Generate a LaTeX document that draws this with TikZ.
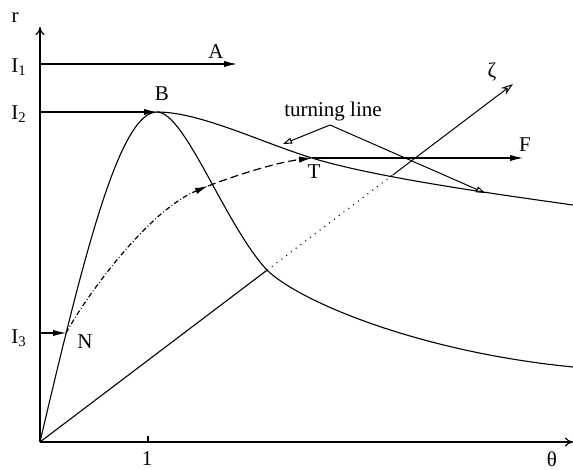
\documentclass[tikz,border=0pt]{standalone}
\usepackage{fontspec}
\setmainfont{Liberation Serif}
\usetikzlibrary{arrows.meta,positioning,calc}
\tikzset{
  curve/.style={line width=0.55pt},
  axisarr/.style={line width=0.6pt, -{To[length=4pt, width=4.5pt]}},
  leadarr/.style={line width=0.6pt, -{Latex[length=6.5pt, width=3.2pt]}},
  zetaarr/.style={line width=0.5pt, -{Stealth[open, length=6pt, width=4pt]}},
  callarr/.style={line width=0.5pt, -{Triangle[open, length=4.5pt, width=3pt]}},
  lbl/.style={font=\fontsize{10.5}{12}\selectfont, inner sep=0pt},
  dashdot/.style={dash pattern=on 2.5pt off 1.2pt on 0.4pt off 1.2pt},
}

\begin{document}
\begin{tikzpicture}[x=0.5pt, y=-0.5pt]
  \useasboundingbox (0,0) rectangle (573,470);
  % puntos
  \coordinate (O) at (40,442);
  \coordinate (rtop) at (40,27);
  \coordinate (thend) at (573,442);
  \coordinate (tick) at (148,442);
  \coordinate (B) at (157,112);
  \coordinate (N) at (66,333);
  \coordinate (T) at (312,158);
  \coordinate (M) at (208,186);
  \coordinate (Z) at (513,84);
  \coordinate (Z1) at ($(O)!0.48!(Z)$);
  \coordinate (Z2) at ($(O)!0.746!(Z)$);
  \coordinate (a1) at (40,64);
  \coordinate (a2) at (237,64);
  \coordinate (b1) at (40,112);
  \coordinate (n1) at (40,333);
  \coordinate (Fend) at (523,158);
  \coordinate (apex) at (330,125);
  \coordinate (tl) at (283,144);
  \coordinate (tr) at (485,193);
  \coordinate (bellend) at (573,367);
  \coordinate (upend) at (573,205);

  % ejes
  \draw[axisarr] (O) -- (rtop);
  \draw[axisarr] (O) -- (thend);
  \draw[curve] (tick) -- ++(0,-6);

  % curvas
  \draw[curve] (O) .. controls (85,250) and (120,112) .. (B)
    .. controls (185,112) and (225,225) .. (Z1)
    .. controls (300,302) and (420,352) .. (bellend);
  \draw[curve] (B) .. controls (200,112) and (260,142) .. (T)
    .. controls (370,176) and (480,192) .. (upend);

  % flechas de entrada
  \draw[leadarr] (a1) -- (a2);
  \draw[leadarr] (b1) -- (B);
  \draw[leadarr] (n1) -- (N);
  \draw[leadarr] (T) -- (Fend);
  \draw[leadarr, dashdot] (N) .. controls (90,290) and (150,210) .. (M);
  \draw[leadarr, dashed, dash pattern=on 4pt off 2pt] (M) .. controls (245,172) and (280,162) .. (T);

  % recta zeta
  \draw[curve] (O) -- (Z1);
  \draw[curve, dash pattern=on 0.5pt off 2.5pt] (Z1) -- (Z2);
  \draw[zetaarr] (Z2) -- (Z);

  % turning line
  \draw[callarr] (apex) -- (tl);
  \draw[callarr] (apex) -- (tr);

  % etiquetas
  \node[lbl] (rlbl) at (15,18) {r};
  \node[lbl] (I1) at (19,67) {I\textsubscript{1}};
  \node[lbl] (I2) at (19,114) {I\textsubscript{2}};
  \node[lbl] (I3) at (19,338) {I\textsubscript{3}};
  \node[lbl] (Albl) at (216,52) {A};
  \node[lbl] (Blbl) at (162,94) {B};
  \node[lbl] (Nlbl) at (85,342) {N};
  \node[lbl] (Tlbl) at (314,172) {T};
  \node[lbl] (Flbl) at (525,145) {F};
  \node[lbl] (zlbl) at (492,72) {ζ};
  \node[lbl] (thlbl) at (552,459) {θ};
  \node[lbl] (one) at (147,459) {1};
  \node[lbl] (turn) at (333,111) {turning line};
\end{tikzpicture}
\end{document}
